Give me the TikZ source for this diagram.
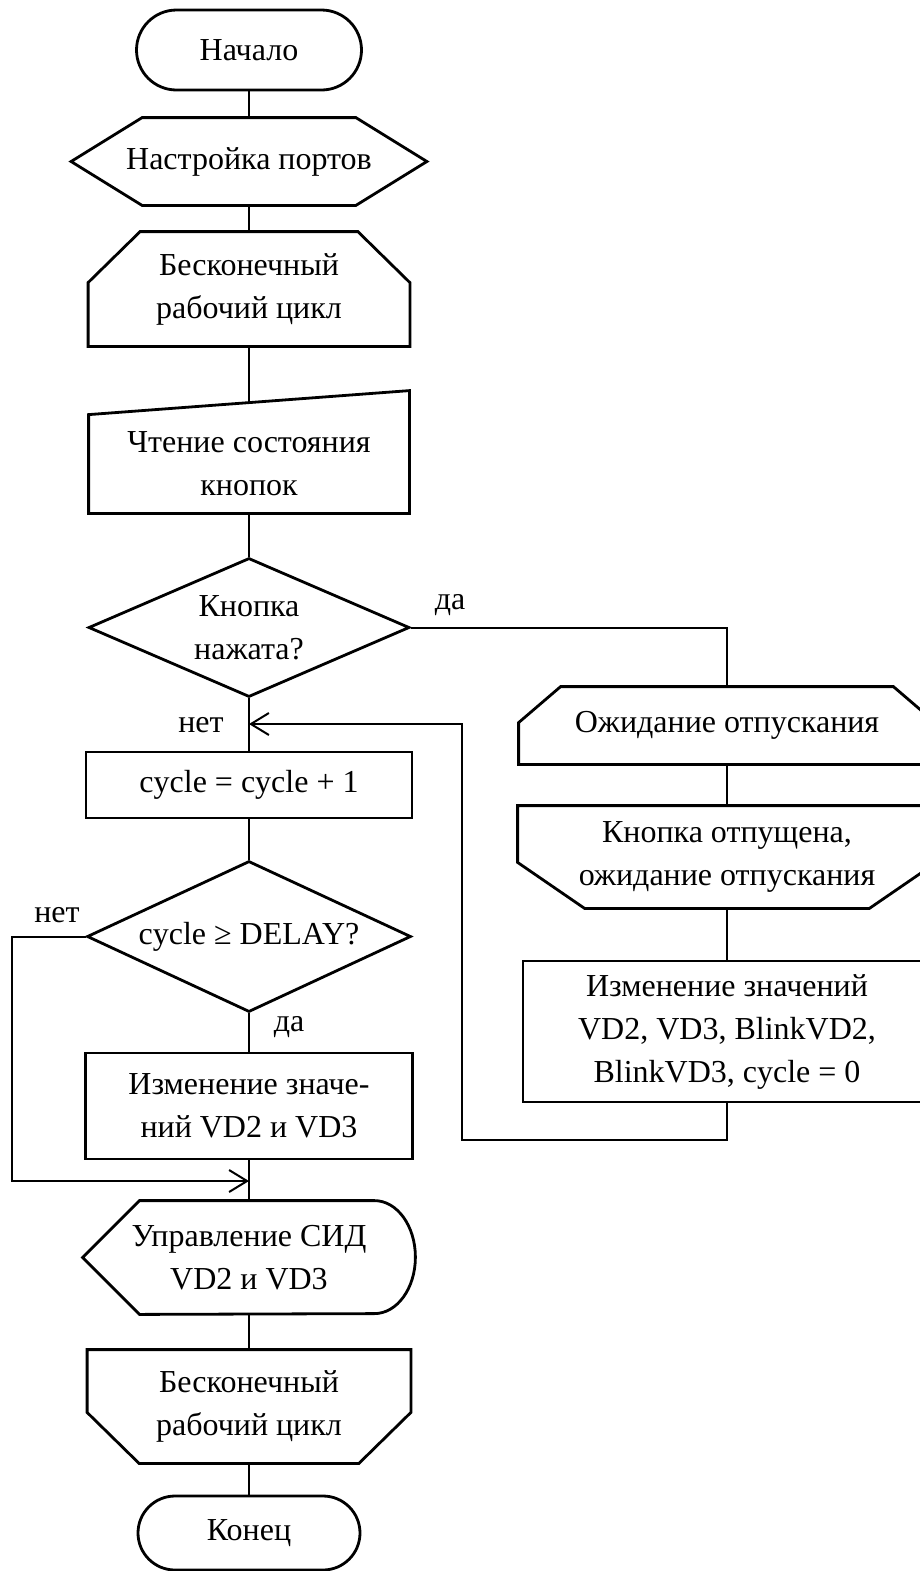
\documentclass[tikz,border=0pt]{standalone}
\usepackage{fontspec}
\setmainfont{Liberation Serif}
\usetikzlibrary{shapes.geometric,arrows.meta}
\newcommand{\blkfont}{\fontsize{16pt}{21.5pt}\selectfont}
\tikzset{font=\blkfont}
\tikzstyle{blk}=[rectangle,inner sep=0pt,align=center]
\tikzstyle{proc}=[blk,draw,line width=1.4pt]
\tikzstyle{term}=[blk,draw,line width=1.4pt]
\tikzstyle{cond}=[blk,draw,diamond,line width=1.4pt]
\tikzstyle{outl}=[line width=1.4pt]
\tikzstyle{conn}=[line width=1pt]
% outlines of the flowchart blocks drawn round a plain node
\newcommand{\prepshape}[2]{\draw[outl] (#1.west) -- ([xshift=#2]#1.north west) -- ([xshift=-#2]#1.north east) -- (#1.east) -- ([xshift=-#2]#1.south east) -- ([xshift=#2]#1.south west) -- cycle;}
\newcommand{\cycbeg}[3]{\draw[outl] ([xshift=#2]#1.north west) -- ([xshift=-#2]#1.north east) -- ([yshift=-#3]#1.north east) -- (#1.south east) -- (#1.south west) -- ([yshift=-#3]#1.north west) -- cycle;}
\newcommand{\cycend}[3]{\draw[outl] (#1.north west) -- (#1.north east) -- ([yshift=#3]#1.south east) -- ([xshift=-#2]#1.south east) -- ([xshift=#2]#1.south west) -- ([yshift=#3]#1.south west) -- cycle;}

\begin{document}
\begin{tikzpicture}[x=0.5pt,y=-0.5pt,>={Straight Barb[length=9pt,width=11pt]}]
\clip (0,0) rectangle (920,1571);
\fill[white] (0,0) rectangle (920,1571);
% main column
\node[term,rounded corners=20pt,minimum width=112.5pt,minimum height=40pt] (start) at (249,50) {Начало};
\node[blk,minimum width=177.5pt,minimum height=43.5pt] (prep) at (249,161.5) {Настройка портов};
\node[blk,minimum width=160.5pt,minimum height=57pt] (loop1) at (249,289) {Бесконечный\\рабочий цикл};
\node[blk,minimum width=160pt,minimum height=49pt] (input) at (249,464) {Чтение состояния\\кнопок};
\node[cond,aspect=2.3,minimum width=160.5pt,minimum height=69.5pt] (dec1) at (249,627.5) {Кнопка\\нажата?};
\node[proc,minimum width=163pt,minimum height=33pt] (proc1) at (249,785) {cycle = cycle + 1};
\node[cond,aspect=2.15,minimum width=162pt,minimum height=75.5pt] (dec2) at (249,936.5) {cycle ≥ DELAY?};
\node[proc,minimum width=163.5pt,minimum height=53pt] (proc2) at (249,1106) {Изменение значе-\\ний VD2 и VD3};
\node[blk,minimum width=166pt,minimum height=56.5pt] (disp) at (249,1257.5) {Управление СИД\\VD2 и VD3};
\node[blk,minimum width=161.5pt,minimum height=56.5pt] (loop2) at (249,1406.5) {Бесконечный\\рабочий цикл};
\node[term,rounded corners=18.5pt,minimum width=111pt,minimum height=37pt] (stop) at (249,1533) {Конец};
% right column
\node[blk,minimum width=208pt,minimum height=38.5pt] (wait1) at (727,725.5) {Ожидание отпускания};
\node[blk,minimum width=209pt,minimum height=51pt] (wait2) at (727,857) {Кнопка отпущена,\\ожидание отпускания};
\node[proc,minimum width=204pt,minimum height=70.5pt] (proc3) at (727,1031.5) {Изменение значений\\VD2, VD3, BlinkVD2,\\BlinkVD3, cycle = 0};
% labels
\node (yes1) at (450,605) {да};
\node (no1) at (201,725) {нет};
\node (no2) at (57,915) {нет};
\node (yes2) at (289,1027) {да};
% shapes
\prepshape{prep}{35.5pt}
\cycbeg{loop1}{26pt}{25.5pt}
\draw[outl] (input.south west) -- (input.north west) -- ([yshift=12pt]input.north east) -- (input.south east) -- cycle;
\draw[outl] (disp.west) -- ([xshift=28.5pt]disp.north west) -- ([xshift=-20.5pt]disp.north east)
  arc[start angle=90,end angle=-90,x radius=20.5pt,y radius=28.25pt] -- ([xshift=28.5pt]disp.south west) -- cycle;
\cycend{loop2}{26pt}{25.5pt}
\cycbeg{wait1}{21pt}{18pt}
\cycend{wait2}{33.5pt}{23pt}
% connectors
\coordinate (j1) at (249,724);
\coordinate (r1) at (462,1140);
\coordinate (j2) at (249,1181);
\coordinate (l1) at (12,1181);
\draw[conn] (start.south) -- (prep.north)
  (prep.south) -- (loop1.north)
  (loop1.south) -- ([yshift=6pt]input.north)
  (input.south) -- (dec1.north)
  (dec1.south) -- (proc1.north)
  (proc1.south) -- (dec2.north)
  (dec2.south) -- (proc2.north)
  (proc2.south) -- (disp.north)
  (disp.south) -- (loop2.north)
  (loop2.south) -- (stop.north);
\draw[conn] (dec1.east) -| (wait1.north);
\draw[conn] (wait1.south) -- (wait2.north)
  (wait2.south) -- (proc3.north);
\draw[conn,->] (proc3.south) |- (r1) |- (j1);
\draw[conn,->] (dec2.west) -| (l1) -- (j2);
\end{tikzpicture}
\end{document}
